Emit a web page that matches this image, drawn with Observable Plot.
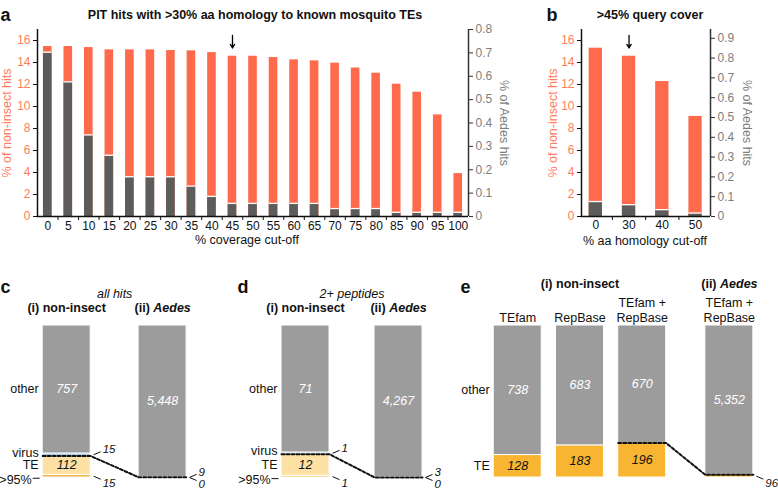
<!DOCTYPE html>
<html><head><meta charset="utf-8">
<script src="https://cdn.jsdelivr.net/npm/d3@7"></script>
<script src="https://cdn.jsdelivr.net/npm/@observablehq/plot@0.6"></script>
<style>
body{margin:0;background:#fff;}
#root{position:relative;width:778px;height:493px;overflow:hidden;background:#fff;}
#root > svg{position:absolute;}
</style></head><body><div id="root"></div>
<script>
// ---------- data: panel a ----------
const coverageCutoffs = [0,5,10,15,20,25,30,35,40,45,50,55,60,65,70,75,80,85,90,95,100];
const nonInsectPctA = [15.45,15.45,15.36,15.15,15.15,15.15,15.09,15.06,14.9,14.57,14.57,14.45,14.24,14.15,13.94,13.5,13.03,12.03,11.3,9.24,3.9];
const aedesPctA = [0.700,0.573,0.346,0.259,0.167,0.167,0.167,0.127,0.083,0.053,0.053,0.053,0.053,0.053,0.031,0.031,0.031,0.015,0.015,0.015,0.015];
const markedCoverage = 45;
// ---------- data: panel b ----------
const homologyCutoffs = [0,30,40,50];
const nonInsectPctB = [15.3,14.57,12.27,9.1];
const aedesPctB = [0.072,0.056,0.031,0.014];
const markedHomology = 30;
// ---------- axis ticks ----------
const leftTicks = [0,2,4,6,8,10,12,14,16];
const rightTicksA = [0,0.1,0.2,0.3,0.4,0.5,0.6,0.7,0.8];
const rightTicksB = [0,0.1,0.2,0.3,0.4,0.5,0.6,0.7,0.8,0.9];
// ---------- data: panels c, d ----------
const cdCategories = [">95%","TE","virus","other"]; // bottom to top
const cAllNonInsect = [15,112,15,757];
const cAllAedes = [0,9,null,5448];
const dPeptNonInsect = [1,12,1,71];
const dPeptAedes = [0,3,null,4267];
// ---------- data: panel e ----------
const eCategories = ["TE","other"];
const eColumnNames = ["TEfam","RepBase","TEfam +\nRepBase","TEfam +\nRepBase"];
const eTEfam = [128,738];
const eRepBase = [183,683];
const eBoth = [196,670];
const eAedesBoth = [96,5352];

// ---------- styling ----------
const FONT = '"Liberation Sans", Arial, Helvetica, sans-serif';
const ORANGE = "#FF6A4D", ORANGE_TXT = "#FF7D5E", DARK = "#5C5C5C", RGREY = "#7E7E7E";
const cdColors = {">95%":"#F2B440","TE":"#FDE0A3","virus":"#A3C6E0","other":"#9C9C9C"};
const eColors = {"TE":"#F8B531","other":"#9C9C9C"};
const baseStyle = {fontFamily: FONT, fontSize: "12px", background: "transparent", overflow: "visible", color: "#111"};
const root = document.getElementById("root");
function place(svg, left, top){ svg.style.left = left + "px"; svg.style.top = top + "px"; root.appendChild(svg); }
const fmtR = v => { const r = Math.round(v*10)/10; return r === 0 ? "0" : r.toFixed(1); };

// ---------- panel a ----------
const KA = 17/0.8;
const HWA = 1.05;
const dataA = coverageCutoffs.map((c,i)=>({cut:c, non:nonInsectPctA[i], aedes:aedesPctA[i]}));
const boundsA = coverageCutoffs.slice(1).map(c => c - 2.5);
const plotA = Plot.plot({
  width: 515, height: 252, marginLeft: 37, marginRight: 47, marginTop: 29, marginBottom: 36,
  style: baseStyle,
  x: {domain: [-2.5, 102.5]},
  y: {domain: [0, 17]},
  marks: [
    Plot.rect(dataA, {x1: d=>d.cut-HWA, x2: d=>d.cut+HWA, y1: ()=>0, y2: "non", fill: ORANGE}),
    Plot.rect(dataA, {x1: d=>d.cut-HWA, x2: d=>d.cut+HWA, y1: ()=>0, y2: d=>d.aedes*KA, fill: DARK}),
    Plot.ruleY(dataA, {x1: d=>d.cut-HWA, x2: d=>d.cut+HWA, y: d=>d.aedes*KA, stroke: "white", strokeWidth: 1.3, dy: -0.7}),
    Plot.ruleY([0], {stroke: "#111", strokeWidth: 1.4}),
    Plot.ruleX([-2.5], {stroke: "#111", strokeWidth: 1.5}),
    Plot.ruleX([102.5], {stroke: "#333", strokeWidth: 1.5}),
    Plot.axisY(leftTicks, {anchor: "left", tickSize: 4, tickPadding: 3, stroke: "#111", fill: ORANGE_TXT, fontSize: 12, label: null}),
    Plot.axisY(rightTicksA.map(v=>v*KA), {anchor: "right", tickSize: 4, tickPadding: 3, tickFormat: v=>fmtR(v/KA), stroke: "#333", fill: RGREY, fontSize: 12, label: null}),
    Plot.axisX(coverageCutoffs, {tickSize: 0, tickPadding: 5, fontSize: 12, fill: "#111", label: null}),
    Plot.axisX(boundsA, {tickSize: 4, tickFormat: ()=>"", stroke: "#111", label: null}),
    Plot.arrow(dataA.filter(d=>d.cut===markedCoverage), {x: "cut", y1: d=>d.non+1.9, y2: d=>d.non+0.75, stroke: "#000", strokeWidth: 1.3, headLength: 7}),
    Plot.text(["% of non-insect hits"], {frameAnchor: "left", textAnchor: "middle", dx: -31, rotate: -90, fill: ORANGE_TXT, fontSize: 12.5}),
    Plot.text(["% of Aedes hits"], {frameAnchor: "right", textAnchor: "middle", dx: 35, rotate: 90, fill: RGREY, fontSize: 12.5}),
    Plot.text(["% coverage cut-off"], {frameAnchor: "bottom", dy: 27, dx: -6, fill: "#111", fontSize: 12.5}),
    Plot.text(["PIT hits with >30% aa homology to known mosquito TEs"], {frameAnchor: "top", dy: -19, dx: 2, fontWeight: "bold", fontSize: 12.5, fill: "#111"}),
    Plot.text(["a"], {frameAnchor: "top-left", dx: -37, dy: -21, textAnchor: "start", fontWeight: "bold", fontSize: 18, fill: "#111"})
  ]
});
place(plotA, 0, 0);

// ---------- panel b ----------
const KB = 18;
const HWB = 0.2;
const dataB = homologyCutoffs.map((c,i)=>({i, cut:c, non:nonInsectPctB[i], aedes:aedesPctB[i]}));
const plotB = Plot.plot({
  width: 263, height: 252, marginLeft: 66, marginRight: 68, marginTop: 29, marginBottom: 36,
  style: baseStyle,
  x: {domain: [-0.43, 3.45]},
  y: {domain: [0, 17]},
  marks: [
    Plot.rect(dataB, {x1: d=>d.i-HWB, x2: d=>d.i+HWB, y1: ()=>0, y2: "non", fill: ORANGE}),
    Plot.rect(dataB, {x1: d=>d.i-HWB, x2: d=>d.i+HWB, y1: ()=>0, y2: d=>d.aedes*KB, fill: DARK}),
    Plot.ruleY(dataB, {x1: d=>d.i-HWB, x2: d=>d.i+HWB, y: d=>d.aedes*KB, stroke: "white", strokeWidth: 1.3, dy: -0.7}),
    Plot.ruleY([0], {stroke: "#111", strokeWidth: 1.4}),
    Plot.ruleX([-0.43], {stroke: "#111", strokeWidth: 1.5}),
    Plot.ruleX([3.45], {stroke: "#333", strokeWidth: 1.5}),
    Plot.axisY(leftTicks, {anchor: "left", tickSize: 4, tickPadding: 3, stroke: "#111", fill: ORANGE_TXT, fontSize: 12, label: null}),
    Plot.axisY(rightTicksB.map(v=>v*KB), {anchor: "right", tickSize: 4, tickPadding: 3, tickFormat: v=>fmtR(v/KB), stroke: "#333", fill: RGREY, fontSize: 12, label: null}),
    Plot.axisX(dataB.map(d=>d.i), {tickSize: 0, tickPadding: 4, tickFormat: i=>String(homologyCutoffs[i]), fontSize: 12, fill: "#111", label: null}),
    Plot.axisX(dataB.slice(1).map(d=>d.i-0.5), {tickSize: 4, tickFormat: ()=>"", stroke: "#111", label: null}),
    Plot.arrow(dataB.filter(d=>d.cut===markedHomology), {x: "i", y1: d=>d.non+1.9, y2: d=>d.non+0.75, stroke: "#000", strokeWidth: 1.3, headLength: 7}),
    Plot.text(["% of non-insect hits"], {frameAnchor: "left", textAnchor: "middle", dx: -29, rotate: -90, fill: ORANGE_TXT, fontSize: 12.5}),
    Plot.text(["% of Aedes hits"], {frameAnchor: "right", textAnchor: "middle", dx: 36, rotate: 90, fill: RGREY, fontSize: 12.5}),
    Plot.text(["% aa homology cut-off"], {frameAnchor: "bottom", dy: 28, dx: -1, fill: "#111", fontSize: 12.5}),
    Plot.text([">45% query cover"], {frameAnchor: "top", dy: -19, dx: 4, fontWeight: "bold", fontSize: 12.5, fill: "#111"}),
    Plot.text(["b"], {frameAnchor: "top-left", dx: -35, dy: -21, textAnchor: "start", fontWeight: "bold", fontSize: 18, fill: "#111"})
  ]
});
place(plotB, 515, 0);

// ---------- lower panels ----------
const PANEL_H = 152;
const py = 1/PANEL_H;
const fmt = d3.format(",");
function stackRows(cols, cats){
  const rows = [];
  cols.forEach((col, ci) => {
    const total = d3.sum(col.values, v => v ?? 0);
    let acc = 0;
    cats.forEach((cat, k) => {
      const v = col.values[k];
      if (v == null) return;
      const y1 = acc/total; acc += v; const y2 = acc/total;
      rows.push({col: ci, x: col.x, cat, value: v, y1, y2, mid: (y1+y2)/2, frac: v/total, bottom: k === 0});
    });
  });
  return rows;
}
function lowerMarks(rows, {hw, ux, colors, connect}){
  const small = rows.filter(d => d.frac < 0.05);
  const up = small.filter(d => !d.bottom), down = small.filter(d => d.bottom);
  const big = rows.filter(d => d.frac >= 0.05);
  const first = rows.filter(d => d.col === 0);
  const leftBig = first.filter(d => d.frac >= 0.05);
  const leftUp = first.filter(d => d.frac < 0.05 && !d.bottom);
  const leftLead = first.filter(d => d.frac < 0.05 && d.bottom);
  const conn = connect.flatMap(ci => {
    const r = rows.find(d => d.col === ci && d.cat === "TE");
    return [{x: r.x - hw, y: r.y2}, {x: r.x + hw, y: r.y2}];
  });
  const T = {fontSize: 12.5, fill: "#111"};
  const S = {fontSize: 11.5, fill: "#111", fontStyle: "italic"};
  return [
    Plot.rect(rows, {x1: d=>d.x-hw, x2: d=>d.x+hw, y1: "y1", y2: "y2", fill: d=>colors[d.cat], stroke: "white", strokeWidth: 1}),
    Plot.text(big, {x: "x", y: "mid", text: d=>fmt(d.value), fill: d=>d.cat==="other" ? "white" : "#111", fontStyle: "italic", fontSize: 12.5}),
    Plot.text(leftBig, {x: d=>d.x-hw, y: "mid", text: "cat", textAnchor: "end", dx: -4, ...T}),
    Plot.text(leftUp, {x: d=>d.x-hw, y: d=>d.mid+2*py, text: "cat", textAnchor: "end", dx: -4, ...T}),
    Plot.text(leftLead, {x: d=>d.x-hw, y: d=>d.mid-3.5*py, text: "cat", textAnchor: "end", dx: -11, ...T}),
    Plot.link(leftLead, {x1: d=>d.x-hw-10*ux, x2: d=>d.x-hw-3*ux, y1: d=>d.mid-2*py, y2: d=>d.mid-2*py, stroke: "#111", strokeWidth: 1}),
    Plot.link(up, {x1: d=>d.x+hw+3*ux, x2: d=>d.x+hw+10*ux, y1: "mid", y2: d=>d.mid+3*py, stroke: "#111", strokeWidth: 1}),
    Plot.link(down, {x1: d=>d.x+hw+3*ux, x2: d=>d.x+hw+10*ux, y1: "mid", y2: d=>d.mid-3*py, stroke: "#111", strokeWidth: 1}),
    Plot.text(up, {x: d=>d.x+hw+12*ux, y: d=>d.mid+5*py, text: d=>fmt(d.value), textAnchor: "start", ...S}),
    Plot.text(down, {x: d=>d.x+hw+12*ux, y: d=>d.mid-7*py, text: d=>fmt(d.value), textAnchor: "start", ...S}),
    Plot.line(conn, {x: "x", y: "y", stroke: "#111", strokeWidth: 2, strokeDasharray: "3,2"})
  ];
}
function aedesHeader(x, dy){
  return [
    Plot.text(["(ii)"], {x: ()=>x, frameAnchor: "top", dy, dx: -12.8, textAnchor: "end", fontWeight: "bold", fontSize: 12.5, fill: "#111"}),
    Plot.text(["Aedes"], {x: ()=>x, frameAnchor: "top", dy, dx: -9.3, textAnchor: "start", fontWeight: "bold", fontStyle: "italic", fontSize: 12.5, fill: "#111"})
  ];
}
function letter(l, dx){
  return Plot.text([l], {frameAnchor: "top-left", dx, dy: -45, textAnchor: "start", fontWeight: "bold", fontSize: 18, fill: "#111"});
}

// panel c
{
  const pxu = 235/2.45;
  const rows = stackRows([{x: 0, values: cAllNonInsect}, {x: 1, values: cAllAedes}], cdCategories);
  const p = Plot.plot({
    width: 235, height: 233, marginLeft: 0, marginRight: 0, marginTop: 65, marginBottom: 16,
    style: baseStyle, x: {domain: [-0.69, 1.76], axis: null}, y: {domain: [0, 1], axis: null},
    color: {type: "identity"},
    marks: [
      ...lowerMarks(rows, {hw: 24/pxu, ux: 1/pxu, colors: cdColors, connect: [0, 1]}),
      Plot.text(["all hits"], {x: ()=>0.5, frameAnchor: "top", dy: -36, fontStyle: "italic", fontSize: 12.5, fill: "#111"}),
      Plot.text(["(i) non-insect"], {x: ()=>0, frameAnchor: "top", dy: -22, fontWeight: "bold", fontSize: 12.5, fill: "#111"}),
      ...aedesHeader(1, -22),
      letter("c", 0)
    ]
  });
  place(p, 0, 260);
}
// panel d
{
  const pxu = 220/2.366;
  const rows = stackRows([{x: 0, values: dPeptNonInsect}, {x: 1, values: dPeptAedes}], cdCategories);
  const p = Plot.plot({
    width: 220, height: 233, marginLeft: 0, marginRight: 0, marginTop: 65, marginBottom: 16,
    style: baseStyle, x: {domain: [-0.753, 1.613], axis: null}, y: {domain: [0, 1], axis: null},
    color: {type: "identity"},
    marks: [
      ...lowerMarks(rows, {hw: 24/pxu, ux: 1/pxu, colors: cdColors, connect: [0, 1]}),
      Plot.text(["2+ peptides"], {x: ()=>0.5, frameAnchor: "top", dy: -36, fontStyle: "italic", fontSize: 12.5, fill: "#111"}),
      Plot.text(["(i) non-insect"], {x: ()=>0, frameAnchor: "top", dy: -22, fontWeight: "bold", fontSize: 12.5, fill: "#111"}),
      ...aedesHeader(1, -22),
      letter("d", 2)
    ]
  });
  place(p, 235, 260);
}
// panel e
{
  const pxu = 323/5.19;
  const eCols = [
    {x: 0, values: eTEfam, name: eColumnNames[0]},
    {x: 1, values: eRepBase, name: eColumnNames[1]},
    {x: 2, values: eBoth, name: eColumnNames[2]},
    {x: 3.4, values: eAedesBoth, name: eColumnNames[3]}
  ];
  const rows = stackRows(eCols, eCategories);
  const p = Plot.plot({
    width: 323, height: 233, marginLeft: 0, marginRight: 0, marginTop: 65, marginBottom: 16,
    style: baseStyle, x: {domain: [-1.0, 4.19], axis: null}, y: {domain: [0, 1], axis: null},
    color: {type: "identity"},
    marks: [
      ...lowerMarks(rows, {hw: 24/pxu, ux: 1/pxu, colors: eColors, connect: [2, 3]}),
      Plot.text(eCols, {x: "x", text: "name", frameAnchor: "top", dy: -4, lineAnchor: "bottom", lineHeight: 1.2, fontSize: 12.5, fill: "#111"}),
      Plot.text(["(i) non-insect"], {x: ()=>1, frameAnchor: "top", dy: -46, fontWeight: "bold", fontSize: 12.5, fill: "#111"}),
      ...aedesHeader(3.4, -46),
      letter("e", 5)
    ]
  });
  place(p, 455, 260);
}
</script></body></html>
